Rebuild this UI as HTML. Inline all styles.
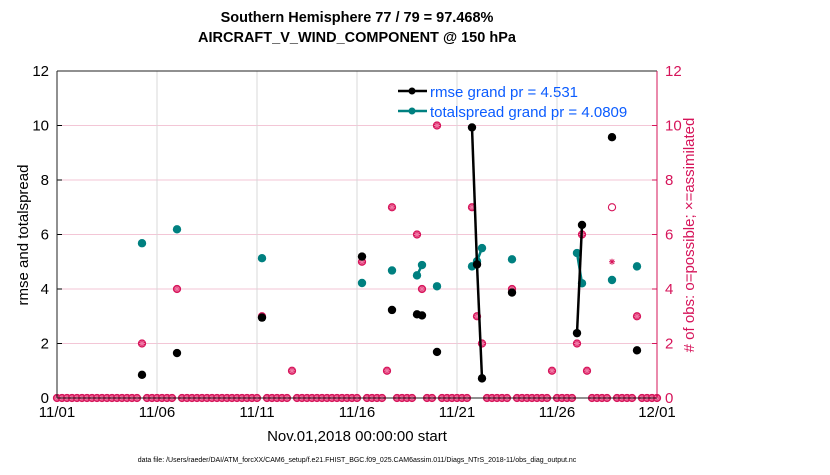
<!DOCTYPE html>
<html><head><meta charset="utf-8"><style>
body{margin:0;background:#fff;font-family:"Liberation Sans",sans-serif}
svg text{font-family:"Liberation Sans",sans-serif}
</style></head><body>
<svg id="c" width="830" height="470">
<text x="357" y="22" text-anchor="middle" font-size="14.5" font-weight="bold">Southern Hemisphere 77 / 79 = 97.468%</text>
<text x="357" y="42" text-anchor="middle" font-size="14.5" font-weight="bold">AIRCRAFT_V_WIND_COMPONENT @ 150 hPa</text>
<g id="grid"></g>
<g id="marks"></g>
<g id="axes"></g>
<text transform="translate(28,235) rotate(-90)" text-anchor="middle" font-size="15">rmse and totalspread</text>
<text transform="translate(694,235) rotate(-90)" text-anchor="middle" font-size="15" fill="#d6145a"># of obs: o=possible; ×=assimilated</text>
<text x="357" y="441" text-anchor="middle" font-size="15">Nov.01,2018 00:00:00 start</text>
<text x="357" y="462" text-anchor="middle" font-size="7">data file: /Users/raeder/DAI/ATM_forcXX/CAM6_setup/f.e21.FHIST_BGC.f09_025.CAM6assim.011/Diags_NTrS_2018-11/obs_diag_output.nc</text>
<g>
<line x1="398" y1="91" x2="427" y2="91" stroke="#000" stroke-width="2.5"/><circle cx="412" cy="91" r="3.5" fill="#000"/>
<text x="430" y="97" font-size="15" fill="#0b5cff">rmse grand pr = 4.531</text>
<line x1="398" y1="111" x2="427" y2="111" stroke="#008080" stroke-width="2.5"/><circle cx="412" cy="111" r="3.5" fill="#008080"/>
<text x="430" y="117" font-size="15" fill="#0b5cff">totalspread grand pr = 4.0809</text>
</g>
</svg>
<script>
const times=[4.25,6,10.25,11.75,15.25,16.5,16.75,18,18.25,19,20.75,21,21.25,22.75,24.75,26,26.25,26.5,27.75,29];
const rmse=[0.85,1.65,2.95,null,5.19,null,3.23,3.07,3.03,1.69,9.93,4.9,0.72,3.87,null,2.38,6.35,null,9.57,1.75];
const spread=[5.68,6.19,5.13,null,4.22,null,4.68,4.5,4.88,4.1,4.83,5.02,5.5,5.09,null,5.32,4.21,null,4.33,4.83];
const nPossible=[2,4,3,1,5,1,7,6,4,10,7,3,2,4,1,2,6,1,7,3];
const nAssim=[2,4,3,1,5,1,7,6,4,10,7,3,2,4,1,2,6,1,5,3];
const xTicks=[0,5,10,15,20,25,30];
const xLabels=['11/01','11/06','11/11','11/16','11/21','11/26','12/01'];
const yTicks=[0,2,4,6,8,10,12];
const X0=57,X1=657,Y0=398,Y1=71;
const sx=t=>X0+(X1-X0)*t/30, sy=v=>Y0-(Y0-Y1)*v/12;
const NS='http://www.w3.org/2000/svg';
function mk(p,tag,a){const e=document.createElementNS(NS,tag);for(const k in a)e.setAttribute(k,a[k]);p.appendChild(e);return e;}
const grid=document.getElementById('grid'),marks=document.getElementById('marks'),axes=document.getElementById('axes');
yTicks.forEach(v=>{if(v>0&&v<12){const l=mk(grid,'line',{x1:X0,x2:X1,y1:sy(v),y2:sy(v),stroke:'#f3c6d6','stroke-width':1});

}
const t=mk(axes,'text',{x:X0-8,y:sy(v)+5,'text-anchor':'end','font-size':15});t.textContent=v;


const t2=mk(axes,'text',{x:X1+8,y:sy(v)+5,'font-size':15,fill:'#d6145a'});t2.textContent=v;


mk(axes,'line',{x1:X0,x2:X0+5,y1:sy(v),y2:sy(v),stroke:'#000'});
mk(axes,'line',{x1:X1-5,x2:X1,y1:sy(v),y2:sy(v),stroke:'#d6145a'});});
xTicks.forEach((t,i)=>{if(t>0&&t<30){const l=mk(grid,'line',{x1:sx(t),x2:sx(t),y1:Y1,y2:Y0,stroke:'#d8d8d8'});

}
const tx=mk(axes,'text',{x:sx(t),y:Y0+19,'text-anchor':'middle','font-size':15});tx.textContent=xLabels[i];

});
mk(axes,'line',{x1:X0,x2:X1,y1:Y1,y2:Y1,stroke:'#222'});
mk(axes,'line',{x1:X0,x2:X1,y1:Y0,y2:Y0,stroke:'#222'});
mk(axes,'line',{x1:X0,x2:X0,y1:Y1,y2:Y0,stroke:'#222'});
mk(axes,'line',{x1:X1,x2:X1,y1:Y1,y2:Y0,stroke:'#d6145a'});
function star(x,y,solo){const g=mk(marks,'g',{stroke:solo?'#d6145a':'#f07aa6','stroke-width':1});


mk(g,'line',{x1:x-3,x2:x+3,y1:y,y2:y});mk(g,'line',{x1:x,x2:x,y1:y-3,y2:y+3});
mk(g,'line',{x1:x-2.2,x2:x+2.2,y1:y-2.2,y2:y+2.2});mk(g,'line',{x1:x-2.2,x2:x+2.2,y1:y+2.2,y2:y-2.2});}
function circ(x,y,fill){const c=mk(marks,'circle',{cx:x,cy:y,r:3.6,fill:fill?'#d6145a':'none',stroke:'#d6145a','stroke-width':1.1});

}
function both(x,y){circ(x,y,true);star(x,y,false);}
for(let k=0;k<=120;k++){const t=k/4;if(times.some(s=>Math.abs(s-t)<1e-6))continue;both(sx(t),Y0);}
times.forEach((t,i)=>{if(nPossible[i]===nAssim[i]){both(sx(t),sy(nPossible[i]));}else{circ(sx(t),sy(nPossible[i]),false);star(sx(t),sy(nAssim[i]),true);}});
function series(vals,col,name){for(let i=1;i<times.length;i++){if(vals[i]!=null&&vals[i-1]!=null&&Math.abs(times[i]-times[i-1]-0.25)<1e-6){
const l=mk(marks,'line',{x1:sx(times[i-1]),y1:sy(vals[i-1]),x2:sx(times[i]),y2:sy(vals[i]),stroke:col,'stroke-width':2.5});

}}
times.forEach((t,i)=>{if(vals[i]==null)return;const c=mk(marks,'circle',{cx:sx(t),cy:sy(vals[i]),r:4.2,fill:col});

});}
series(spread,'#008080','totalspread');
series(rmse,'#000','rmse');
</script>
</body></html>
